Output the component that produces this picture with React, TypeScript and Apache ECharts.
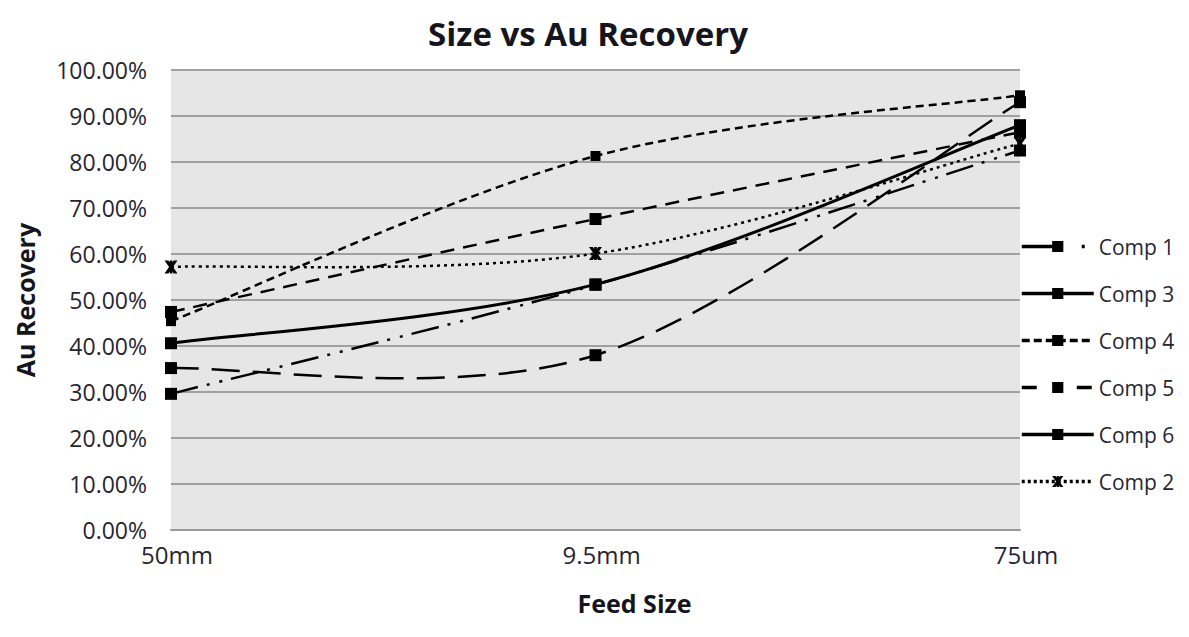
import React, { useEffect, useRef } from "react";
import * as echarts from "echarts";

const categories = ["50mm", "9.5mm", "75um"];
const comp1 = [29.6, 53.3, 82.5];
const comp2 = [57.2, 60.1, 84.0];
const comp3 = [40.6, 53.4, 88.0];
const comp4 = [45.4, 81.3, 94.5];
const comp5 = [35.2, 38.0, 93.0];
const comp6 = [47.4, 67.6, 86.5];
const legendOrder = ["Comp 1", "Comp 3", "Comp 4", "Comp 5", "Comp 6", "Comp 2"];

const FONT = "'Open Sans', 'DejaVu Sans', sans-serif";
const TEXT = "#262633";

const starPath =
  "path://M0,0 L3,0 L5,3 L7,0 L10,0 L6.5,5 L10,10 L7,10 L5,7 L3,10 L0,10 L3.5,5 Z M4,0 L6,0 L6,10 L4,10 Z";

type Comp = {
  name: string;
  values: number[];
  dash: number[] | "solid";
  width: number;
  symbol: string;
  symbolSize: number;
  legendDash: number[] | "solid";
};

const comps: Comp[] = [
  { name: "Comp 1", values: comp1, dash: [28, 9, 3, 10, 3, 9], width: 2.5, symbol: "rect", symbolSize: 12, legendDash: [34, 26, 3, 40] },
  { name: "Comp 2", values: comp2, dash: [3, 4], width: 2.5, symbol: starPath, symbolSize: 13, legendDash: [3, 3] },
  { name: "Comp 3", values: comp3, dash: "solid", width: 3, symbol: "rect", symbolSize: 12, legendDash: "solid" },
  { name: "Comp 4", values: comp4, dash: [8, 5], width: 2.5, symbol: "rect", symbolSize: 10, legendDash: [8, 4] },
  { name: "Comp 5", values: comp5, dash: [28, 13], width: 2.5, symbol: "rect", symbolSize: 12, legendDash: [15, 40] },
  { name: "Comp 6", values: comp6, dash: [14, 9], width: 2.5, symbol: "rect", symbolSize: 12, legendDash: "solid" },
];

function curveSeries(c: Comp) {
  return {
    type: "custom",
    name: c.name + " curve",
    silent: true,
    z: 1,
    data: c.values.map((v, i) => [i, v]),
    renderItem: (params: any, api: any) => {
      if (params.dataIndex !== 0) return null;
      const n = c.values.length;
      const pts = c.values.map((v, i) => api.coord([i, v]));
      let d = `M${pts[0][0]},${pts[0][1]}`;
      for (let i = 0; i < n - 1; i++) {
        const p0 = pts[Math.max(i - 1, 0)];
        const p1 = pts[i];
        const p2 = pts[i + 1];
        const p3 = pts[Math.min(i + 2, n - 1)];
        const c1x = p1[0] + (p2[0] - p0[0]) / 6;
        const c1y = p1[1] + (p2[1] - p0[1]) / 6;
        const c2x = p2[0] - (p3[0] - p1[0]) / 6;
        const c2y = p2[1] - (p3[1] - p1[1]) / 6;
        d += ` C${c1x},${c1y} ${c2x},${c2y} ${p2[0]},${p2[1]}`;
      }
      return {
        type: "path",
        shape: { pathData: d },
        style: {
          fill: "none",
          stroke: "#000",
          lineWidth: c.width,
          lineDash: c.dash === "solid" ? null : c.dash,
        },
      };
    },
  };
}

function markerSeries(c: Comp) {
  return {
    type: "line",
    name: c.name,
    data: c.values,
    symbol: c.symbol,
    symbolSize: c.symbolSize,
    showSymbol: true,
    z: 3,
    itemStyle: { color: "#000" },
    lineStyle: { color: "#000", opacity: 0, width: c.width },
    emphasis: { disabled: true },
  };
}

export default function App() {
  const ref = useRef<HTMLDivElement>(null);
  useEffect(() => {
    document.body.style.margin = "0";
    const chart = echarts.init(ref.current!, null, { renderer: "svg" });
    const legendData = legendOrder.map((name) => {
      const c = comps.find((x) => x.name === name)!;
      return {
        name,
        itemStyle: { color: "#000" },
        lineStyle: {
          color: "#000",
          opacity: 1,
          width: 3.5,
          type: c.legendDash,
        },
      };
    });
    chart.setOption({
      animation: false,
      backgroundColor: "#fff",
      title: {
        text: "Size vs Au Recovery",
        left: 583,
        textAlign: "center",
        top: 12,
        textStyle: { fontFamily: FONT, fontSize: 33, fontWeight: "bold", color: "#151520" },
      },
      legend: {
        orient: "vertical",
        left: 1015,
        top: 231,
        itemWidth: 72,
        itemHeight: 14,
        itemGap: 26,
        data: legendData,
        selectedMode: false,
        textStyle: { fontFamily: FONT, fontSize: 21, lineHeight: 21, color: TEXT },
      },
      grid: {
        left: 171,
        right: 169,
        top: 70,
        bottom: 107,
        show: true,
        backgroundColor: "#e6e6e6",
        borderWidth: 0,
      },
      xAxis: {
        type: "category",
        data: categories,
        boundaryGap: false,
        axisTick: { show: false },
        axisLine: { lineStyle: { color: "#9a9a9a", width: 2 } },
        axisLabel: { fontFamily: FONT, fontSize: 24, color: TEXT, margin: 12, padding: [0, 0, 0, 12] },
        splitLine: { show: false },
        name: "Feed Size",
        nameLocation: "middle",
        nameGap: 60,
        nameTextStyle: { fontFamily: FONT, fontSize: 25, fontWeight: "bold", color: "#151520", padding: [0, 0, 0, 78] },
      },
      yAxis: {
        type: "value",
        min: 0,
        max: 100,
        interval: 10,
        axisLine: { show: false },
        axisTick: { show: false },
        axisLabel: {
          fontFamily: FONT,
          fontSize: 23,
          color: TEXT,
          margin: 24,
          formatter: (v: number) => v.toFixed(2) + "%",
        },
        splitLine: { lineStyle: { color: "#a0a0a0", width: 2 } },
        name: "Au Recovery",
        nameLocation: "middle",
        nameGap: 134,
        nameTextStyle: { fontFamily: FONT, fontSize: 25, fontWeight: "bold", color: "#151520" },
      },
      series: [...comps.map(curveSeries), ...comps.map(markerSeries)],
    });
    return () => chart.dispose();
  }, []);
  return <div ref={ref} style={{ width: 1189, height: 637 }} />;
}
